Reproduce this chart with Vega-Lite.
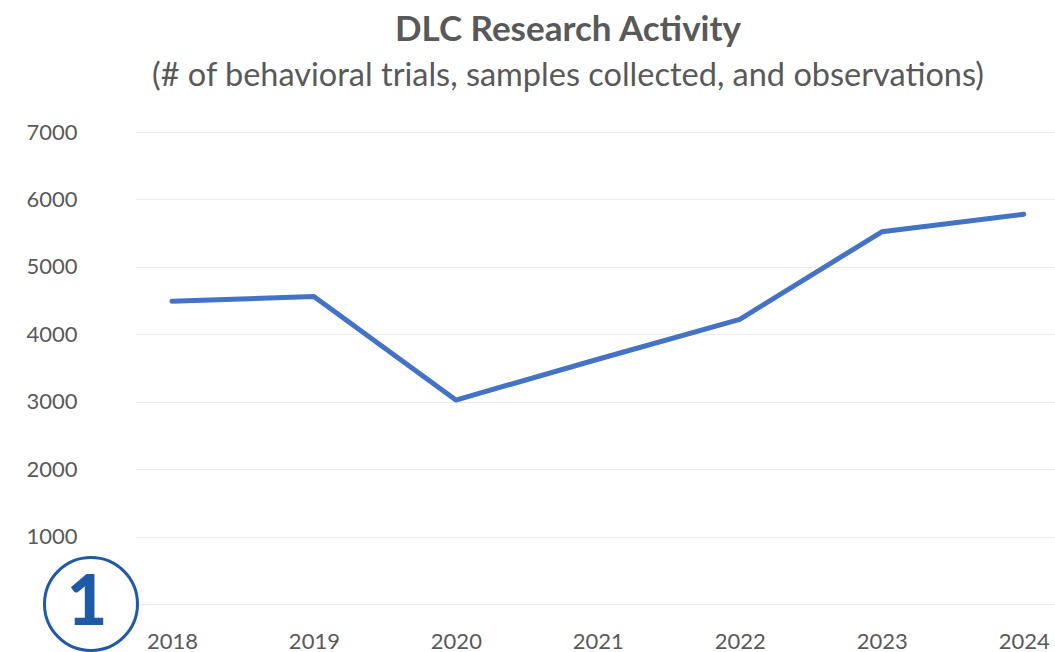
{
  "$schema": "https://vega.github.io/schema/vega-lite/v6.json",
  "width": 920,
  "height": 472,
  "autosize": {"type": "none"},
  "padding": {"left": 135, "top": 132, "right": 0, "bottom": 48},
  "background": "white",
  "title": {
    "text": "DLC Research Activity",
    "subtitle": "(# of behavioral trials, samples collected, and observations)",
    "font": "Lato",
    "fontSize": 35,
    "fontWeight": "bold",
    "color": "#595959",
    "subtitleFont": "Lato",
    "subtitleFontSize": 32.5,
    "subtitleColor": "#595959",
    "subtitlePadding": 12,
    "anchor": "middle",
    "dx": -27,
    "offset": 29
  },
  "config": {
    "view": {"stroke": null},
    "axis": {"labelFont": "Lato", "labelColor": "#595959", "labelFontSize": 22, "title": null, "domain": false, "ticks": false}
  },
  "layer": [
    {
      "data": {"values": [
        {"year": 2018, "value": 4490},
        {"year": 2019, "value": 4560},
        {"year": 2020, "value": 3025},
        {"year": 2021, "value": 3630},
        {"year": 2022, "value": 4222},
        {"year": 2023, "value": 5520},
        {"year": 2024, "value": 5780}
      ]},
      "mark": {"type": "line", "color": "#4472C4", "strokeWidth": 5, "strokeCap": "round", "strokeJoin": "round"},
      "encoding": {
        "x": {"field": "year", "type": "quantitative", "scale": {"domain": [2017.74, 2024.22], "nice": false, "zero": false},
              "axis": {"values": [2018, 2019, 2020, 2021, 2022, 2023, 2024], "format": "d", "grid": false, "labelPadding": 27}},
        "y": {"field": "value", "type": "quantitative", "scale": {"domain": [0, 7000], "nice": false},
              "axis": {"values": [0, 1000, 2000, 3000, 4000, 5000, 6000, 7000], "format": "d", "labelExpr": "datum.value == 0 ? '' : datum.label", "grid": true, "gridColor": "#ebebeb", "gridWidth": 1, "labelPadding": 58}}
      }
    },
    {
      "data": {"values": [{"year": 2017.43, "value": 0, "label": "1"}]},
      "mark": {"type": "point", "shape": "circle", "filled": false, "size": 8650, "stroke": "#1f5aa6", "strokeWidth": 3, "opacity": 1, "clip": false},
      "encoding": {
        "x": {"field": "year", "type": "quantitative"},
        "y": {"field": "value", "type": "quantitative"}
      }
    },
    {
      "data": {"values": [{"year": 2017.43, "value": 0, "label": "1"}]},
      "mark": {"type": "text", "font": "Lato", "fontSize": 70, "fontWeight": 900, "color": "#1f5aa6", "baseline": "middle", "align": "center", "dx": -4, "dy": 0, "clip": false},
      "encoding": {
        "x": {"field": "year", "type": "quantitative"},
        "y": {"field": "value", "type": "quantitative"},
        "text": {"field": "label"}
      }
    }
  ]
}
